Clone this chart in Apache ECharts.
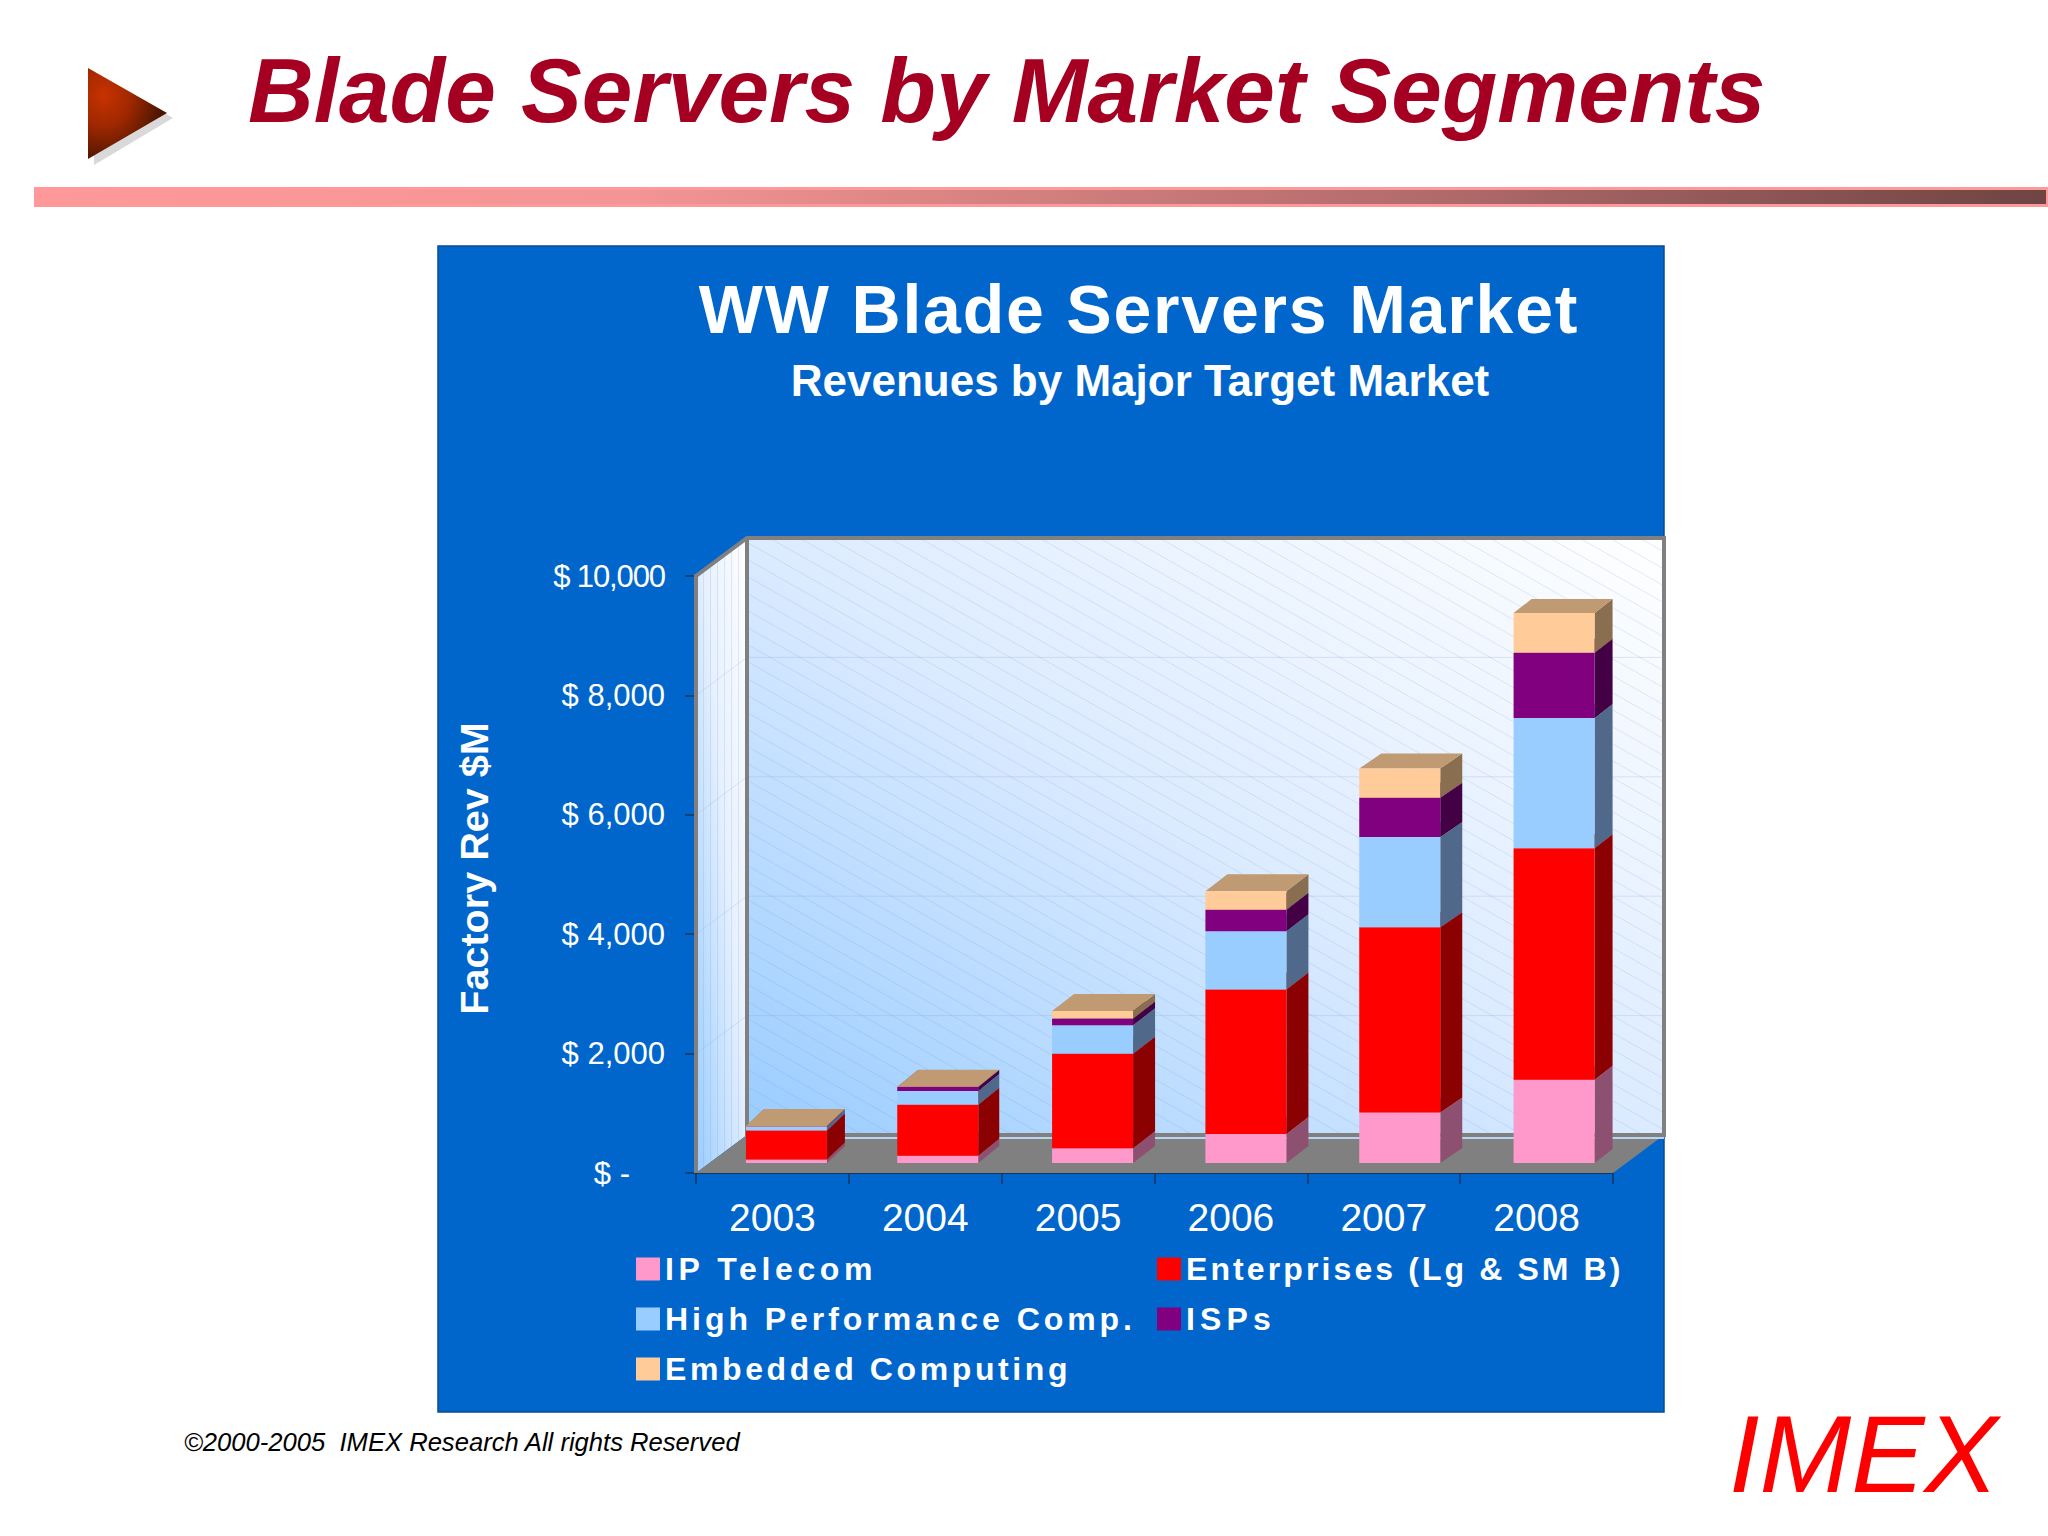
<!DOCTYPE html>
<html><head><meta charset="utf-8"><style>html,body{margin:0;padding:0;background:#fff}#c{width:2048px;height:1536px}</style>
<script src="https://cdn.jsdelivr.net/npm/echarts@6/dist/echarts.min.js"></script></head>
<body><div id="c"></div><script>
const categories = ['2003','2004','2005','2006','2007','2008'];
const ipTelecom = [60,120,247,487,846,1393];
const enterprises = [486,854,1581,2419,3102,3880];
const highPerf = [60,232,479,974,1513,2180];
const isps = [5,67,112,360,659,1094];
const embedded = [10,5,128,314,487,666];
const yTicks = [0,2000,4000,6000,8000,10000];
const yTickLabels = ['$ -','$ 2,000','$ 4,000','$ 6,000','$ 8,000','$ 10,000'];
const seriesNames = ['IP Telecom','Enterprises (Lg & SM B)','High Performance Comp.','ISPs','Embedded Computing'];
const seriesData = [ipTelecom,enterprises,highPerf,isps,embedded];
const faceColors = ['#FF99CC','#FF0000','#99CCFF','#800080','#FFCC99'];
const sideColors = ['#8E5070','#8B0000','#50688A','#440044','#8A6E50'];
const topColors  = ['#BF7399','#BF0000','#7399BF','#600060','#BF9A72'];
const FONT = '"Liberation Sans",Arial,sans-serif';
const G = echarts.graphic;

function hatchTile(){
  const c=document.createElement('canvas');c.width=30;c.height=17;
  const x=c.getContext('2d');x.strokeStyle='rgba(90,130,190,0.16)';x.lineWidth=1;
  x.beginPath();x.moveTo(0,0);x.lineTo(30,17);x.stroke();return c;
}
function vHatchTile(){
  const c=document.createElement('canvas');c.width=7;c.height=8;
  const x=c.getContext('2d');x.strokeStyle='rgba(90,130,190,0.16)';x.lineWidth=1;
  x.beginPath();x.moveTo(3.5,0);x.lineTo(3.5,8);x.stroke();return c;
}
const WX=51, WY=-38;
function renderWalls(params,api){
  const cs=params.coordSys, L=cs.x, R=cs.x+cs.width, T=cs.y, B=cs.y+cs.height;
  const kids=[];
  const poly=(pts,style)=>kids.push({type:'polygon',shape:{points:pts},style,silent:true});
  const side=[[L,T],[L+WX,T+WY],[L+WX,B+WY],[L,B]];
  const back=[[L+WX,T+WY],[R+WX,T+WY],[R+WX,B+WY],[L+WX,B+WY]];
  poly(side,{fill:new G.LinearGradient(1,0,0,1,[{offset:0,color:'#FFFFFF'},{offset:.45,color:'#E6F0FF'},{offset:1,color:'#99CCFF'}])});
  poly(side,{fill:{image:vHatchTile(),repeat:'repeat'}});
  poly(back,{fill:new G.LinearGradient(0,1,1,0,[{offset:0,color:'#99CCFF'},{offset:.5,color:'#DCEBFF'},{offset:1,color:'#FFFFFF'}])});
  poly(back,{fill:{image:hatchTile(),repeat:'repeat'}});
  poly([[L,B],[R,B],[R+WX,B+WY],[L+WX,B+WY]],{fill:'#808080'});
  yTicks.slice(1,-1).forEach(v=>{
    const y=api.coord([0,v])[1];
    kids.push({type:'polyline',shape:{points:[[L,y],[L+WX,y+WY],[R+WX,y+WY]]},style:{fill:null,stroke:'rgba(130,150,190,0.22)',lineWidth:1},silent:true});
  });
  const fr={fill:null,stroke:'#808080',lineWidth:4};
  kids.push({type:'polyline',shape:{points:[[L,B],[L,T],[L+WX,T+WY],[R+WX,T+WY],[R+WX,B+WY],[L+WX,B+WY],[L+WX,T+WY]]},style:fr,silent:true});
  kids.push({type:'line',shape:{x1:L+WX,y1:B+WY+3,x2:R+WX,y2:B+WY+3},style:{stroke:'#B8D4EE',lineWidth:2},silent:true});
  return {type:'group',children:kids};
}
const BAR_W=81, BAR_DX=15, BAR_DY=-10;
const BAR_NUDGE=[-1,-2.5,-0.5,0,1,2.5];
const DEPTH_X=[18,21,22,22,22,18];
const DEPTH_Y=[17,17,17,17,15,14];
function renderBar(si){
  return function(params,api){
    const cat=api.value(0), low=api.value(1), high=api.value(2);
    const p0=api.coord([cat,low]), p1=api.coord([cat,high]);
    const dx=DEPTH_X[cat], dy=DEPTH_Y[cat];
    const xl=p0[0]+BAR_DX+BAR_NUDGE[cat]-BAR_W/2, xr=xl+BAR_W, yb=p0[1]+BAR_DY, yt=p1[1]+BAR_DY;
    return {type:'group',children:[
      {type:'polygon',shape:{points:[[xr,yb],[xr+dx,yb-dy],[xr+dx,yt-dy],[xr,yt]]},style:{fill:sideColors[si]}},
      {type:'polygon',shape:{points:[[xl,yt],[xr,yt],[xr+dx,yt-dy],[xl+dx,yt-dy]]},style:{fill:topColors[si]}},
      {type:'rect',shape:{x:xl,y:yt,width:BAR_W,height:yb-yt},style:{fill:faceColors[si]}}
    ]};
  };
}
const bases=categories.map(()=>0);
const barSeries=seriesData.map((vals,si)=>{
  const data=vals.map((v,i)=>{const lo=bases[i];bases[i]+=v;return [i,lo,bases[i]];});
  return {type:'custom',name:seriesNames[si],coordinateSystem:'cartesian2d',renderItem:renderBar(si),
    data,encode:{x:0,y:[1,2]},itemStyle:{color:faceColors[si]},z:5,clip:false,silent:true};
});
const legendText={color:'#fff',fontFamily:FONT,fontWeight:'bold',fontSize:32,lineHeight:23};
const option={
  animation:false,backgroundColor:'#fff',
  title:[
    {text:'Blade Servers by Market Segments',left:243,top:40,textStyle:{color:'#A50021',fontFamily:FONT,fontWeight:'bold',fontStyle:'italic',fontSize:91}},
    {text:'WW Blade Servers Market',left:1134,top:270,textAlign:'center',textStyle:{color:'#fff',fontFamily:FONT,fontWeight:'bold',fontSize:68}},
    {text:'Revenues by Major Target Market',left:1135,top:353,textAlign:'center',textStyle:{color:'#fff',fontFamily:FONT,fontWeight:'bold',fontSize:44}}
  ],
  grid:{left:696,right:435,top:576,bottom:363,containLabel:false},
  xAxis:{type:'category',data:categories,boundaryGap:true,
    axisLine:{lineStyle:{color:'#14365F',width:2}},
    axisTick:{show:true,length:11,alignWithLabel:false,lineStyle:{color:'#14365F',width:1.5}},
    axisLabel:{color:'#fff',fontFamily:FONT,fontSize:39,margin:25},splitLine:{show:false}},
  yAxis:{type:'value',min:0,max:10000,interval:2000,name:'Factory Rev $M',nameLocation:'middle',nameGap:202,
    nameTextStyle:{color:'#fff',fontFamily:FONT,fontWeight:'bold',fontSize:39.6,padding:[0,0,0,12]},
    axisLine:{show:false},axisTick:{show:true,length:11,lineStyle:{color:'#14365F',width:1.5}},
    axisLabel:{color:'#fff',fontFamily:FONT,fontSize:31,margin:31,
      formatter:v=>{const t=yTickLabels[yTicks.indexOf(v)];return v===0?'{z|'+t+'}':t;},
      rich:{z:{color:'#fff',fontFamily:FONT,fontSize:31,padding:[0,35,0,0]}}},
    splitLine:{show:false}},
  legend:[
    {data:[seriesNames[0],seriesNames[2],seriesNames[4]],orient:'vertical',left:636,top:1253,itemWidth:24,itemHeight:23,itemGap:18,padding:0,icon:'rect',textStyle:legendText,selectedMode:false},
    {data:[seriesNames[1],seriesNames[3]],orient:'vertical',left:1157,top:1253,itemWidth:24,itemHeight:23,itemGap:18,padding:0,icon:'rect',textStyle:legendText,selectedMode:false}
  ],
  graphic:[
    {type:'polygon',z:-10,shape:{points:[[94,73],[173,118],[94,165]]},style:{fill:'#D9D9D9'}},
    {type:'polygon',z:-9,shape:{points:[[88,68],[167,113],[88,159]]},style:{fill:new G.RadialGradient(.2,.3,.75,[{offset:0,color:'#C83200'},{offset:.45,color:'#A02800'},{offset:1,color:'#4A1500'}])}},
    {type:'rect',z:-9,shape:{x:34,y:187,width:2014,height:20},style:{fill:'#FF9999'}},
    {type:'rect',z:-8,shape:{x:34,y:190,width:2012,height:14},style:{fill:new G.LinearGradient(0,0,1,0,[{offset:0,color:'#FF9999'},{offset:.3,color:'#F49494'},{offset:.7,color:'#B06A6A'},{offset:1,color:'#6F4444'}])}},
    {type:'rect',z:-10,shape:{x:438,y:246,width:1226,height:1166},style:{fill:'#0066CC',stroke:'#0A4C8F',lineWidth:1.5}},
    {type:'text',z:10,style:{text:'©2000-2005  IMEX Research All rights Reserved',x:184,y:1442,fill:'#000',font:'italic 25.6px "Liberation Sans"',textVerticalAlign:'middle'}},
    {type:'text',z:10,style:{text:'IMEX',x:1729,y:1453,fill:'#FF0000',font:'italic 110px "Liberation Sans"',textVerticalAlign:'middle'}}
  ],
  series:[{type:'custom',name:'walls',coordinateSystem:'cartesian2d',renderItem:renderWalls,data:[[0,0]],z:1,clip:false,silent:true}].concat(barSeries)
};
const chart=echarts.init(document.getElementById('c'),null,{renderer:'svg'});
chart.setOption(option);
const spacing={'IP Telecom':4.6,'Enterprises (Lg & SM B)':3.1,'High Performance Comp.':3.95,'ISPs':5.1,'Embedded Computing':3.6,'WW Blade Servers Market':1.8,'$ 10,000':-1.1};
function applySpacing(){
  document.querySelectorAll('#c svg text').forEach(t=>{
    const s=spacing[t.textContent]; if(s) t.setAttribute('letter-spacing',s);
  });
}
applySpacing();chart.on('finished',applySpacing);
</script></body></html>
